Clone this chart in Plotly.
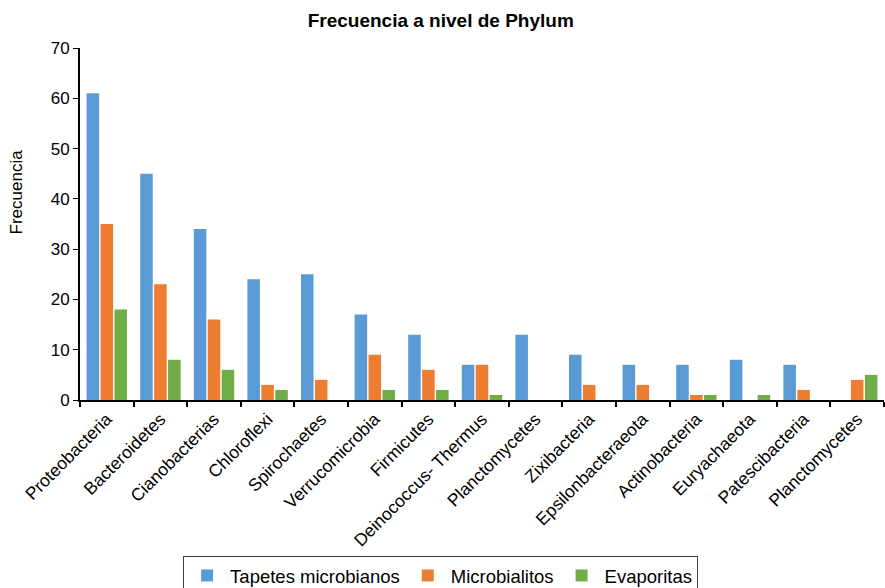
import plotly.graph_objects as go

categories = ["Proteobacteria", "Bacteroidetes", "Cianobacterias", "Chloroflexi", "Spirochaetes",
              "Verrucomicrobia", "Firmicutes", "Deinococcus- Thermus", "Planctomycetes", "Zixibacteria",
              "Epsilonbacteraeota", "Actinobacteria", "Euryachaeota", "Patescibacteria", "Planctomycetes"]
tapetes = [61, 45, 34, 24, 25, 17, 13, 7, 13, 9, 7, 7, 8, 7, 0]
microbialitos = [35, 23, 16, 3, 4, 9, 6, 7, 0, 3, 3, 1, 0, 2, 4]
evaporitas = [18, 8, 6, 2, 0, 2, 2, 1, 0, 0, 0, 1, 1, 0, 5]
series_names = ["Tapetes microbianos", "Microbialitos", "Evaporitas"]
colors = ["#5b9bd5", "#ed7d31", "#70ad47"]

xpos = list(range(len(categories)))

fig = go.Figure()
for name, vals, col in zip(series_names, [tapetes, microbialitos, evaporitas], colors):
    fig.add_trace(go.Bar(x=xpos, y=vals, name=name, marker=dict(color=col, line=dict(width=0))))

font_family = "Liberation Sans, Arial, sans-serif"
fig.update_layout(
    width=885, height=588,
    margin=dict(l=80, r=1, t=48, b=188, autoexpand=False),
    paper_bgcolor="white", plot_bgcolor="white",
    barmode="group", bargap=0.22, bargroupgap=0.1,
    font=dict(family=font_family, color="black"),
    title=dict(text="<b>Frecuencia a nivel de Phylum</b>", x=0.498, xanchor="center",
               y=0.966, yanchor="middle", font=dict(size=19, family=font_family)),
    showlegend=True,
    legend=dict(orientation="h", x=0.4485, xanchor="center", y=-0.443, yanchor="top",
                bordercolor="#404040", borderwidth=1, font=dict(size=18.5),
                itemwidth=36, tracegroupgap=0),
    annotations=[dict(text="Frecuencia", xref="paper", yref="paper", x=-0.079, y=0.591,
                      xanchor="center", yanchor="middle", textangle=-90, showarrow=False,
                      font=dict(size=17, family=font_family))],
)
fig.update_xaxes(
    range=[-0.5, len(categories) - 0.5], automargin=False,
    tickmode="array", tickvals=xpos, ticktext=categories, tickangle=-45,
    ticks="", showline=True, linecolor="black", linewidth=2,
    tickfont=dict(size=17.5), showgrid=False, zeroline=False,
    minor=dict(tick0=-0.5, dtick=1, ticks="outside", ticklen=5, tickcolor="black", tickwidth=1.5),
)
fig.update_yaxes(
    range=[0, 70], dtick=10, ticks="outside", ticklen=5, tickcolor="black", automargin=False,
    showline=True, linecolor="black", linewidth=2, showgrid=False, zeroline=False,
    tickfont=dict(size=17),
)
fig.write_html("out.html", config={"displayModeBar": False},
               post_script="document.body.style.margin='0';document.body.style.overflow='hidden';")
